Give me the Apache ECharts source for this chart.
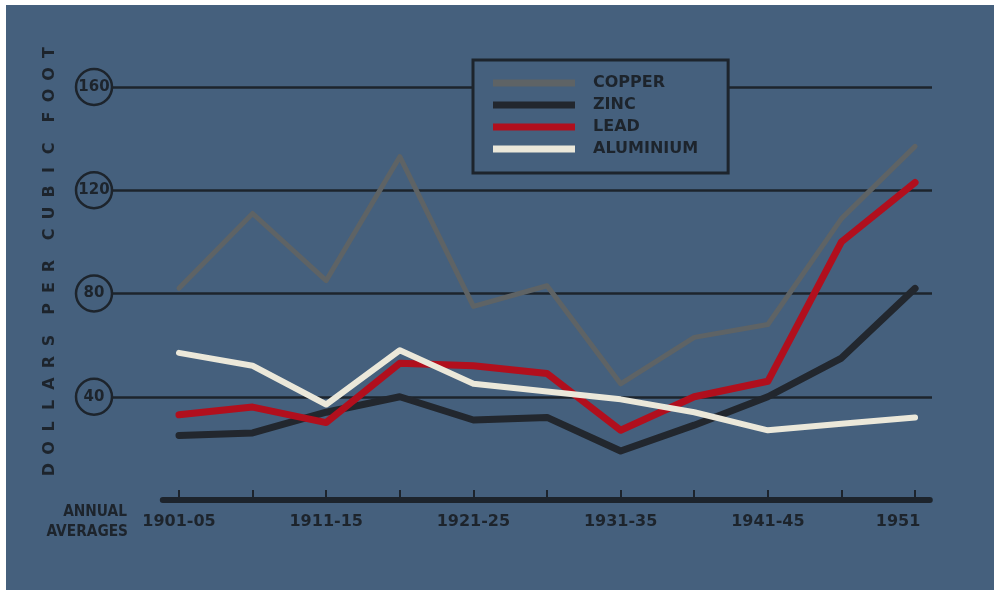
<!DOCTYPE html>
<html>
<head>
<meta charset="utf-8">
<script src="https://cdn.jsdelivr.net/npm/echarts@6/dist/echarts.min.js"></script>
<style>
  html, body { margin: 0; padding: 0; background: #ffffff; }
  #chart { position: absolute; left: 6px; top: 5px; width: 988px; height: 585px; }
</style>
</head>
<body>
<div id="chart"></div>
<script>
// annual averages, dollars per cubic foot
const categories = ['1901-05', '1906-10', '1911-15', '1916-20', '1921-25', '1926-30', '1931-35', '1936-40', '1941-45', '1946-50', '1951']
const labelIndexes = [0, 2, 4, 6, 8, 10]
const copper = [82, 111, 85, 133, 75, 83, 45, 63, 68, 109, 137]
const zinc = [25, 26, 34, 40, 31, 32, 19, 29, 40, 55, 82]
const lead = [33, 36, 30, 53, 52, 49, 27, 40, 46, 100, 123]
const aluminium = [57, 52, 37, 58, 45, 42, 39, 34, 27, 29.5, 32]
const yTitle = 'DOLLARS PER CUBIC FOOT'

const ink = '#1d242c'
const bg = '#45607d'
const font = `'DejaVu Sans', 'Liberation Sans', sans-serif`

const toPoints = arr => arr.map((v, i) => [i, v])

function lineSeries (name, values, color, width) {
  return {
    name: name,
    type: 'line',
    data: toPoints(values),
    symbol: 'none',
    color: color,
    lineStyle: { color: color, width: width, join: 'round', cap: 'round' }
  }
}

// vertical title, one fixed-width cell per letter to get the wide spacing
const titleText = yTitle.split('').map(ch => ch === ' ' ? '{s| }' : '{c|' + ch + '}').join('')

const chart = echarts.init(document.getElementById('chart'))
const option = {
  animation: false,
  backgroundColor: bg,
  textStyle: { fontFamily: font },
  grid: { left: 106, right: 62, top: 82, bottom: 90, containLabel: false },
  legend: {
    orient: 'vertical',
    left: 467,
    top: 55,
    padding: [15, 30, 16, 20],
    backgroundColor: bg,
    borderColor: ink,
    borderWidth: 3,
    borderRadius: 0,
    icon: 'rect',
    itemWidth: 82,
    itemHeight: 7,
    itemGap: 6,
    itemStyle: { borderWidth: 0 },
    textStyle: { color: ink, fontWeight: 'bold', fontSize: 16, lineHeight: 16, padding: [0, 0, 0, 13], fontFamily: font },
    data: ['COPPER', 'ZINC', 'LEAD', 'ALUMINIUM']
  },
  xAxis: {
    type: 'value',
    min: -0.91,
    max: 10.23,
    axisLine: { show: false },
    splitLine: { show: false },
    axisTick: {
      show: true,
      inside: true,
      length: 10,
      customValues: categories.map((c, i) => i),
      lineStyle: { color: ink, width: 2 }
    },
    axisLabel: {
      customValues: labelIndexes,
      margin: 14,
      color: ink,
      fontWeight: 'bold',
      fontSize: 16,
      fontFamily: font,
      formatter: v => {
        const i = Math.round(v)
        return i === categories.length - 1 ? '{r|' + categories[i] + '}' : categories[i]
      },
      rich: {
        r: { padding: [0, 34, 0, 0], color: ink, fontWeight: 'bold', fontSize: 16, fontFamily: font }
      }
    }
  },
  yAxis: {
    type: 'value',
    min: 0,
    max: 160,
    interval: 40,
    axisLine: { show: false },
    axisTick: { show: false },
    splitLine: { show: true, showMinLine: false, lineStyle: { color: ink, width: 2.5 } },
    axisLabel: {
      showMinLabel: false,
      margin: 0,
      formatter: v => '{c|' + v + '}',
      rich: {
        c: {
          width: 36,
          height: 36,
          lineHeight: 36,
          align: 'center',
          borderColor: ink,
          borderWidth: 2.5,
          borderRadius: 20,
          color: ink,
          fontWeight: 'bold',
          fontSize: 15,
          fontFamily: font
        }
      }
    }
  },
  graphic: [
    {
      type: 'text',
      x: 44,
      y: 256,
      rotation: Math.PI / 2,
      style: {
        text: titleText,
        align: 'center',
        verticalAlign: 'middle',
        fill: ink,
        rich: {
          c: { width: 21.5, align: 'center', fontSize: 16, fontWeight: 'bold', fill: ink, color: ink, fontFamily: font },
          s: { width: 10, fontSize: 16 }
        }
      }
    },
    {
      type: 'text',
      x: 121,
      y: 507,
      scaleX: 0.86,
      style: { text: 'ANNUAL', align: 'right', verticalAlign: 'middle', fill: ink, fontWeight: 'bold', fontSize: 16, fontFamily: font }
    },
    {
      type: 'text',
      x: 122,
      y: 527,
      scaleX: 0.86,
      style: { text: 'AVERAGES', align: 'right', verticalAlign: 'middle', fill: ink, fontWeight: 'bold', fontSize: 16, fontFamily: font }
    }
  ],
  series: [
    Object.assign(lineSeries('COPPER', copper, '#5e6365', 5), {
      // thick base line of the chart drawn through the axes
      markLine: {
        silent: true,
        symbol: ['none', 'none'],
        label: { show: false },
        lineStyle: { color: ink, width: 6, type: 'solid', cap: 'round' },
        data: [[{ coord: [-0.22, 0] }, { coord: [10.2, 0] }]]
      }
    }),
    lineSeries('ZINC', zinc, '#22272e', 7),
    lineSeries('LEAD', lead, '#b10f1d', 7),
    lineSeries('ALUMINIUM', aluminium, '#ebe8da', 6)
  ]
}
chart.setOption(option)
</script>
</body>
</html>
